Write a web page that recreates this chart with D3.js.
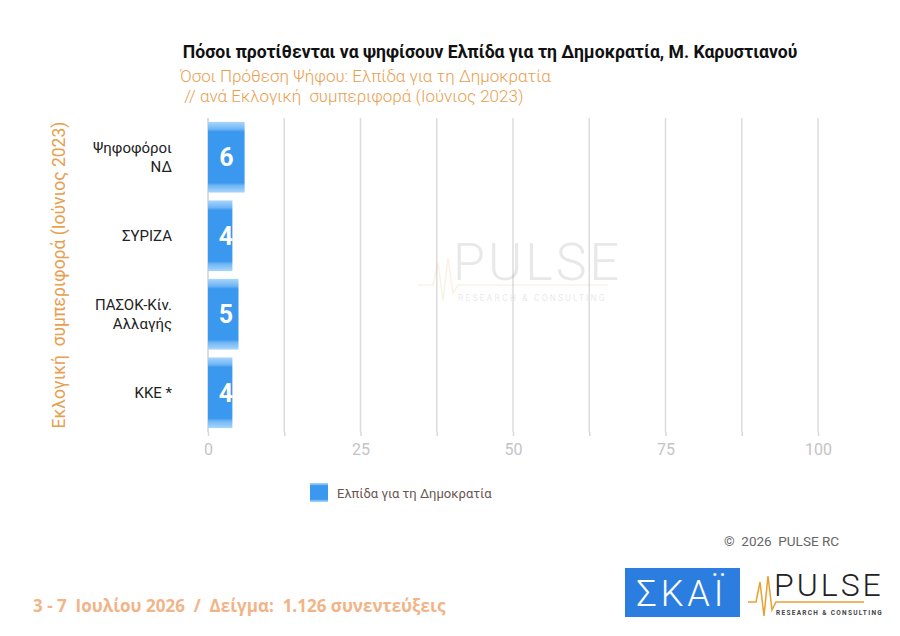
<!DOCTYPE html>
<html>
<head>
<meta charset="utf-8">
<script src="https://cdn.jsdelivr.net/npm/d3@7"></script>
<style>
  body { margin: 0; background: #fff; }
  svg { display: block; }
</style>
</head>
<body>
<svg id="chart" width="900" height="636"></svg>
<script>
// data
var categories = [["Ψηφοφόροι", "ΝΔ"], ["ΣΥΡΙΖΑ"], ["ΠΑΣΟΚ-Κίν.", "Αλλαγής"], ["ΚΚΕ *"]];
var values = [6, 4, 5, 4];
var ticks = [0, 25, 50, 75, 100];
var seriesName = "Ελπίδα για τη Δημοκρατία";

var svg = d3.select("#chart");
var font = "Roboto, 'Noto Sans', sans-serif";

// gradient for bars
var defs = svg.append("defs");
var g1 = defs.append("linearGradient").attr("id", "barGrad")
    .attr("x1", 0).attr("y1", 0).attr("x2", 0).attr("y2", 1);
[[0, "#a9d6fb"], [0.1, "#6fb6f5"], [0.14, "#3a98ee"], [0.86, "#3a98ee"], [0.9, "#6fb6f5"], [1, "#a9d6fb"]]
    .forEach(function (s) { g1.append("stop").attr("offset", s[0]).attr("stop-color", s[1]); });

var margin = { left: 208, right: 82, top: 118, bottom: 204 };
var width = 900 - margin.left - margin.right;
var height = 636 - margin.top - margin.bottom;

var x = d3.scaleLinear().domain([0, 100]).range([0, width]);
var y = d3.scaleBand().domain(d3.range(categories.length)).range([0, height]).paddingInner(0.1).paddingOuter(0.05);

var plot = svg.append("g").attr("transform", "translate(" + margin.left + "," + margin.top + ")");

// gridlines every 12.5
plot.selectAll("line.grid").data(d3.range(12.5, 100.1, 12.5)).enter().append("line")
    .attr("x1", function (d) { return x(d); }).attr("x2", function (d) { return x(d); })
    .attr("y1", 0).attr("y2", height)
    .attr("stroke", "#dcdcdc").attr("stroke-width", 1.5);

// watermark
var wm = plot.append("g").attr("opacity", 0.13).attr("transform", "translate(210,125)");
wm.append("text").attr("x", 35).attr("y", 37).attr("font-family", font).attr("font-weight", 300)
    .attr("font-size", 52).attr("letter-spacing", 3).attr("fill", "#555").text("PULSE");
wm.append("path").attr("d", "M0,42 L15,42 L20,20 L25,58 L30,15 L35,50 L40,42 L190,42")
    .attr("fill", "none").attr("stroke", "#e0a040").attr("stroke-width", 1.5);
wm.append("text").attr("x", 40).attr("y", 58).attr("font-family", font).attr("font-size", 8.5)
    .attr("letter-spacing", 2.2).attr("fill", "#555").text("RESEARCH & CONSULTING");

// x axis
var xAxis = plot.append("g").attr("transform", "translate(0," + height + ")")
    .call(d3.axisBottom(x).tickValues(d3.range(0, 100.1, 12.5)).tickSize(6).tickFormat(function (d) {
        return ticks.indexOf(d) >= 0 ? d : "";
    }));
xAxis.select(".domain").remove();
xAxis.selectAll(".tick line").attr("stroke", "#d8d8d8").attr("stroke-width", 1.5).attr("y1", 0).attr("y2", 4);
xAxis.selectAll(".tick text").attr("font-family", font).attr("font-size", 16).attr("fill", "#c4c4c4").attr("dy", 14);

// y axis line
plot.append("line").attr("x1", 0).attr("x2", 0).attr("y1", 0).attr("y2", height)
    .attr("stroke", "#d0d0d0").attr("stroke-width", 1.5);

// bars
plot.selectAll("rect.bar").data(values).enter().append("rect")
    .attr("x", 0).attr("y", function (d, i) { return y(i); })
    .attr("width", function (d) { return x(d); }).attr("height", y.bandwidth())
    .attr("fill", "url(#barGrad)");

plot.selectAll("text.val").data(values).enter().append("text")
    .attr("x", function (d) { return Math.max(x(d) / 2, 18); })
    .attr("y", function (d, i) { return y(i) + y.bandwidth() / 2 + 9; })
    .attr("text-anchor", "middle").attr("font-family", font).attr("font-weight", "bold")
    .attr("font-size", 25).attr("fill", "#fff").text(function (d) { return d; });

// category labels
plot.selectAll("text.cat").data(categories).enter().append("text")
    .attr("text-anchor", "end").attr("font-family", font).attr("font-size", 15).attr("fill", "#222")
    .each(function (d, i) {
        var t = d3.select(this);
        var cy = y(i) + y.bandwidth() / 2;
        var start = cy - (d.length - 1) * 9.5 + 5;
        d.forEach(function (line, j) {
            t.append("tspan").attr("x", -36).attr("y", start + j * 19).text(line);
        });
    });

// y axis title
svg.append("text").attr("transform", "translate(65,275) rotate(-90)")
    .attr("text-anchor", "middle").attr("font-family", font).attr("font-size", 17.5)
    .attr("fill", "#e8a050").attr("xml:space", "preserve").text("Εκλογική  συμπεριφορά (Ιούνιος 2023)");

// titles
svg.append("text").attr("x", 490).attr("y", 58).attr("text-anchor", "middle")
    .attr("font-family", font).attr("font-weight", "bold").attr("font-size", 17.6).attr("fill", "#111")
    .text("Πόσοι προτίθενται να ψηφίσουν Ελπίδα για τη Δημοκρατία, Μ. Καρυστιανού");
svg.append("text").attr("x", 180).attr("y", 82).attr("font-family", font).attr("font-weight", 300)
    .attr("font-size", 17).attr("fill", "#e8a050").text("Όσοι Πρόθεση Ψήφου: Ελπίδα για τη Δημοκρατία");
svg.append("text").attr("x", 180).attr("y", 102).attr("font-family", font).attr("font-weight", 300)
    .attr("font-size", 17).attr("fill", "#e8a050").attr("xml:space", "preserve")
    .text(" // ανά Εκλογική  συμπεριφορά (Ιούνιος 2023)");

// legend
svg.append("rect").attr("x", 310).attr("y", 483).attr("width", 18).attr("height", 19).attr("fill", "url(#barGrad)");
svg.append("text").attr("x", 337).attr("y", 498).attr("font-family", font).attr("font-size", 13)
    .attr("fill", "#6b5550").text(seriesName);

// copyright
svg.append("text").attr("x", 724).attr("y", 546).attr("font-family", font).attr("font-size", 13.5)
    .attr("fill", "#666").attr("xml:space", "preserve").text("©  2026  PULSE RC");

// footer
svg.append("text").attr("x", 33).attr("y", 612).attr("font-family", "'Open Sans', sans-serif")
    .attr("font-weight", "bold").attr("font-size", 17).attr("fill", "#f2b487").attr("xml:space", "preserve")
    .text("3 - 7  Ιουλίου 2026  /  Δείγμα:  1.126 συνεντεύξεις");

// SKAI logo
svg.append("rect").attr("x", 625).attr("y", 568).attr("width", 115).attr("height", 49).attr("fill", "#2b7ee0");
svg.append("text").attr("x", 682).attr("y", 606).attr("text-anchor", "middle").attr("font-family", font)
    .attr("font-weight", 300).attr("font-size", 36).attr("letter-spacing", 4).attr("fill", "#fff").text("ΣΚΑΪ");

// PULSE logo
var lg = svg.append("g").attr("transform", "translate(748,568)");
lg.append("text").attr("x", 26).attr("y", 28).attr("font-family", font).attr("font-weight", 300)
    .attr("font-size", 32).attr("letter-spacing", 3).attr("fill", "#222").text("PULSE");
lg.append("path").attr("d", "M0,34 L8,34 L12,14 L16,48 L20,8 L24,42 L28,34 L116,34")
    .attr("fill", "none").attr("stroke", "#e8a030").attr("stroke-width", 1.5);
lg.append("text").attr("x", 28).attr("y", 47).attr("font-family", font).attr("font-weight", "bold")
    .attr("font-size", 6.5).attr("letter-spacing", 1.3).attr("fill", "#444").text("RESEARCH & CONSULTING");
</script>
</body>
</html>
